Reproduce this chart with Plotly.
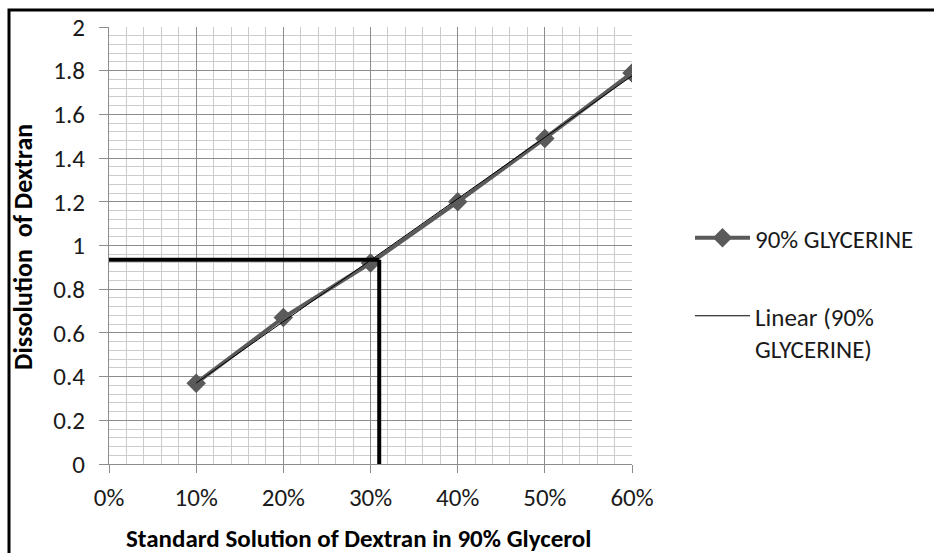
import numpy as np
import plotly.graph_objects as go

# Standard solutions (fraction of dextran) and measured dissolution values
concentration = [0.10, 0.20, 0.30, 0.40, 0.50, 0.60]
dissolution = [0.37, 0.67, 0.92, 1.20, 1.49, 1.79]

# Reading taken off the calibration line for the unknown sample
sample_conc = 0.31
sample_dissolution = 0.935

x_tick_vals = [0.0, 0.1, 0.2, 0.3, 0.4, 0.5, 0.6]
x_tick_text = ["0%", "10%", "20%", "30%", "40%", "50%", "60%"]
y_tick_vals = [0, 0.2, 0.4, 0.6, 0.8, 1.0, 1.2, 1.4, 1.6, 1.8, 2.0]
y_tick_text = ["0", "0.2", "0.4", "0.6", "0.8", "1", "1.2", "1.4", "1.6", "1.8", "2"]

series_name = "90% GLYCERINE"
trend_name = "Linear (90%<br>GLYCERINE)"

FONT = "Carlito, Lato, sans-serif"
W, H = 934, 553
ML, MR, MT, MB = 109, 302, 27, 89
PW, PH = W - ML - MR, H - MT - MB


def px_x(px):
    return (px - ML) / PW


def px_y(py):
    return (H - MB - py) / PH


# least-squares linear trendline through the measured points
slope, intercept = np.polyfit(concentration, dissolution, 1)
trend_x = [min(concentration), max(concentration)]
trend_y = [slope * v + intercept for v in trend_x]

fig = go.Figure()
fig.add_trace(go.Scatter(
    x=concentration, y=dissolution, name=series_name,
    mode="lines+markers",
    line=dict(color="#5a5a5a", width=4),
    marker=dict(symbol="diamond", size=15, color="#5a5a5a"),
    legend="legend",
))
fig.add_trace(go.Scatter(
    x=trend_x, y=trend_y, name=trend_name, mode="lines",
    line=dict(color="#000000", width=1),
    legend="legend2",
))

# guide lines from the axes to the sample reading
fig.add_shape(type="line", xref="x", yref="y", x0=0, x1=sample_conc,
              y0=sample_dissolution, y1=sample_dissolution,
              line=dict(color="black", width=4), layer="above")
fig.add_shape(type="line", xref="x", yref="y", x0=sample_conc, x1=sample_conc,
              y0=sample_dissolution, y1=0,
              line=dict(color="black", width=4), layer="above")

# outer frame around the chart
fig.add_shape(type="rect", xref="paper", yref="paper",
              x0=px_x(9), x1=px_x(940), y0=px_y(560), y1=px_y(10),
              line=dict(color="black", width=3), fillcolor="rgba(0,0,0,0)")

fig.add_annotation(text="<b>Dissolution  of Dextran</b>", xref="paper", yref="paper",
                   x=px_x(23), y=px_y(247), xanchor="center", yanchor="middle",
                   textangle=-90, showarrow=False,
                   font=dict(family=FONT, size=26, color="#000"))
fig.add_annotation(text="<b>Standard Solution of Dextran in 90% Glycerol</b>",
                   xref="paper", yref="paper", x=px_x(358), y=px_y(538),
                   xanchor="center", yanchor="middle", showarrow=False,
                   font=dict(family=FONT, size=25, color="#000"))

tick_font = dict(family=FONT, size=25, color="#1a1a1a")
fig.update_xaxes(
    range=[0, 0.6], tickmode="array", tickvals=x_tick_vals, ticktext=x_tick_text,
    showgrid=True, gridcolor="#8c8c8c", gridwidth=1,
    minor=dict(tickmode="linear", tick0=0, dtick=0.02, showgrid=True,
               gridcolor="#cccccc", gridwidth=1),
    showline=True, linecolor="#8c8c8c", linewidth=1,
    ticks="outside", ticklen=8, tickcolor="#8c8c8c", ticklabelstandoff=3,
    zeroline=False, tickfont=tick_font,
)
fig.update_yaxes(
    range=[0, 2], tickmode="array", tickvals=y_tick_vals, ticktext=y_tick_text,
    showgrid=True, gridcolor="#8c8c8c", gridwidth=1,
    minor=dict(tickmode="linear", tick0=0, dtick=0.04, showgrid=True,
               gridcolor="#cccccc", gridwidth=1),
    showline=True, linecolor="#8c8c8c", linewidth=1,
    ticks="outside", ticklen=9, tickcolor="#8c8c8c", ticklabelstandoff=9,
    zeroline=False, tickfont=tick_font,
)

legend_font = dict(family=FONT, size=25, color="#1a1a1a")
fig.update_layout(
    width=W, height=H,
    margin=dict(l=ML, r=MR, t=MT, b=MB),
    paper_bgcolor="white", plot_bgcolor="white",
    showlegend=True,
    legend=dict(x=px_x(690), y=px_y(238), xanchor="left", yanchor="middle",
                font=legend_font, bgcolor="rgba(0,0,0,0)", itemwidth=55),
    legend2=dict(x=px_x(690), y=px_y(332), xanchor="left", yanchor="middle",
                 font=legend_font, bgcolor="rgba(0,0,0,0)", itemwidth=55,
                 valign="top"),
)

fig.write_html("out.html")
